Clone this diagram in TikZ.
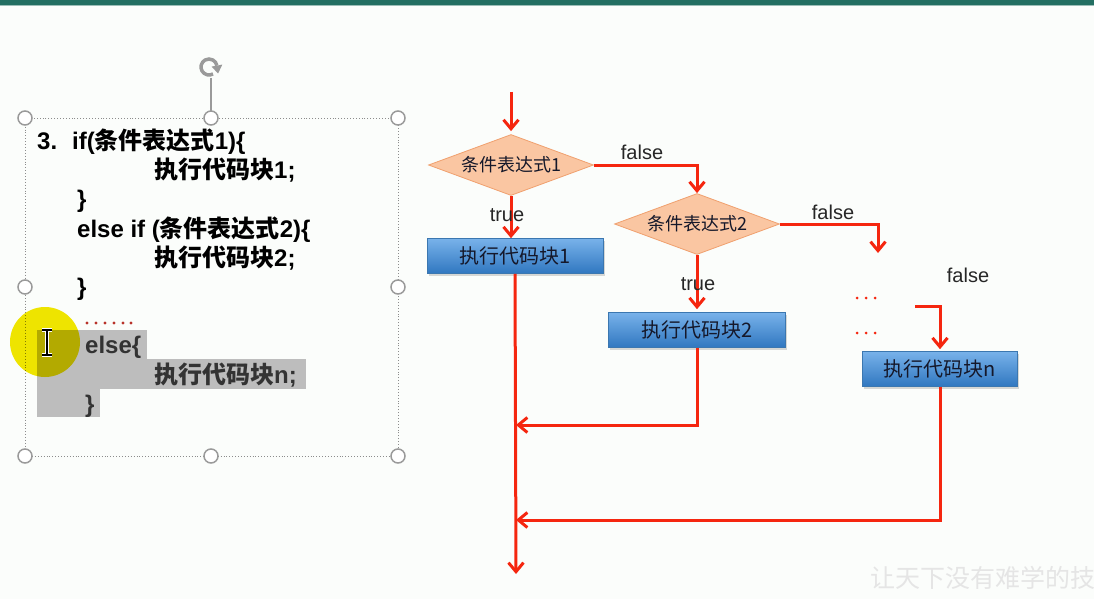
\documentclass[tikz,border=0pt]{standalone}
\usepackage{fontspec}
\setmainfont{Liberation Sans}
\newfontfamily\cjk{Noto Sans CJK SC}
\usetikzlibrary{shapes.geometric,arrows.meta,shadows}
\definecolor{bgcol}{HTML}{FBFDFB}
\definecolor{topteal}{HTML}{236F62}
\definecolor{flowred}{HTML}{F5260F}
\definecolor{dotred}{HTML}{B8322A}
\definecolor{handlegray}{HTML}{9A9A9A}
\definecolor{framegray}{HTML}{8C8C8C}
\definecolor{hlgray}{HTML}{BDBDBD}
\definecolor{yellowc}{HTML}{F2E600}
\definecolor{condfill}{HTML}{FAC6A2}
\definecolor{condborder}{HTML}{F0A06E}
\definecolor{proctop}{HTML}{78B2EA}
\definecolor{procbot}{HTML}{3077C0}
\definecolor{procborder}{HTML}{3B77B0}
\definecolor{proctext}{HTML}{15182A}
\tikzset{
  codetxt/.style={anchor=base west, inner sep=0pt, font=\fontsize{24}{24}\selectfont\bfseries, text=black},
  handle/.style={circle, draw=handlegray, fill=white, line width=1.5pt, minimum size=14pt, inner sep=0pt},
  cond/.style={diamond, aspect=2.7, draw=condborder, fill=condfill, line width=0.8pt, minimum width=165pt, minimum height=61pt, inner sep=0pt, font=\cjk\fontsize{18}{18}\selectfont, text=proctext},
  proc/.style={rectangle, draw=procborder, line width=0.6pt, top color=proctop, bottom color=procbot, minimum height=35pt, inner sep=0pt, font=\cjk\fontsize{20}{20}\selectfont, text=proctext, drop shadow={opacity=0.3, shadow xshift=1.5pt, shadow yshift=-2pt}},
  flow/.style={draw=flowred, line width=3pt, -{Straight Barb[length=9pt,width=15pt]}},
  lbl/.style={font=\fontsize{20}{20}\selectfont, text=black!85, inner sep=0pt}
}
\begin{document}
\begin{tikzpicture}[x=1pt,y=-1pt]
\useasboundingbox (0,0) rectangle (1094,599);
\fill[bgcol] (0,0) rectangle (1094,599);
\fill[topteal] (0,0) rectangle (1094,5);
\fill[topteal!45] (0,5) rectangle (1094,6.5);

% watermark
\begin{scope}
\clip (0,0) rectangle (1094,599);
\node[anchor=west, inner sep=0pt, text=black!10, font=\cjk\fontsize{25}{25}\selectfont] (wm) at (870,578) {让天下没有难学的技};
\end{scope}

% ---------- code box ----------
\draw[framegray, dotted, line width=0.9pt] (25,118) rectangle (398,456);
\draw[handlegray, line width=1.5pt] (211,78) -- (211,112);
% rotate icon
\coordinate (rot) at (209,67);
\draw[handlegray, line width=3.5pt] (rot) ++(-60:8pt) arc[start angle=-60, end angle=-350, radius=8pt];
\fill[handlegray] (222.3,64.6) -- (211.5,66.6) -- (218.1,73.5) -- cycle;
\node[handle] (h1) at (25,118) {};
\node[handle] (h2) at (211,118) {};
\node[handle] (h3) at (398,118) {};
\node[handle] (h4) at (25,287) {};
\node[handle] (h5) at (398,287) {};
\node[handle] (h6) at (25,456) {};
\node[handle] (h7) at (211,456) {};
\node[handle] (h8) at (398,456) {};

% highlight
\fill[hlgray] (37,330) rectangle (147,359);
\fill[hlgray] (37,359) rectangle (306,389);
\fill[hlgray] (37,389) rectangle (100,417);

\node[codetxt] (c1a) at (37,149) {3.};
\node[codetxt] (c1b) at (72,149) {if({\cjk 条件表达式}1)\{};
\node[codetxt] (c2) at (154,178) {{\cjk 执行代码块}1;};
\node[codetxt] (c3) at (77,207) {\}};
\node[codetxt] (c4) at (77,237) {else if ({\cjk 条件表达式}2)\{};
\node[codetxt] (c5) at (154,266) {{\cjk 执行代码块}2;};
\node[codetxt] (c6) at (77,295) {\}};
\foreach \x in {87,96,105,114,123,131} \fill[dotred] (\x,323) circle (1.6pt);
\node[codetxt, text=black!80] (c7) at (85,353) {else\{};
\node[codetxt, text=black!80] (c8) at (154,383) {{\cjk 执行代码块}n;};
\node[codetxt, text=black!80] (c9) at (85,412) {\}};

% yellow cursor highlight
\fill[yellowc, blend mode=multiply] (45,342) circle (35pt);
\draw[white, line width=4pt] (47,330) -- (47,355) (42,330) -- (52,330) (42,355) -- (52,355);
\draw[black, line width=2pt] (47,330) -- (47,355) (42,330) -- (52,330) (42,355) -- (52,355);

% ---------- flowchart ----------
\node[cond] (d1) at (511,165) {条件表达式1};
\node[cond] (d2) at (697,224) {条件表达式2};
\node[proc, minimum width=176pt] (b1) at (515,256) {执行代码块1};
\node[proc, minimum width=177pt] (b2) at (697,330) {执行代码块2};
\node[proc, minimum width=155pt] (bn) at (940,369) {执行代码块n};

\coordinate (start) at (511,92);
\coordinate (f2) at (878,253);
\coordinate (fn) at (915,306);
\coordinate (m0) at (516,574);
\coordinate (m1) at (516,425);
\coordinate (m2) at (516,520);

\draw[flow, shorten >=3pt] (start) -- (d1.north);
\draw[flow] (d1.east) -| (d2.north);
\draw[flow] (d1.south) -- (d1.south |- b1.north);
\draw[flow, shorten >=3pt] (d2.south) -- (b2.north);
\draw[flow] (d2.east) -| (f2);
\draw[flow, shorten >=2pt] (fn) -| (bn.north);
\draw[flow] (b1.south) -- (m0);
\draw[flow] (b2.south) |- (m1);
\draw[flow] (bn.south) |- (m2);

\foreach \y in {298,333} \foreach \x in {857,866,875} \fill[flowred] (\x,\y) circle (1.5pt);

\node[lbl] (lf1) at (642,152) {false};
\node[lbl] (lt1) at (507,215) {true};
\node[lbl] (lf2) at (833,212) {false};
\node[lbl] (lt2) at (698,284) {true};
\node[lbl] (lf3) at (968,275) {false};
\end{tikzpicture}
\end{document}
